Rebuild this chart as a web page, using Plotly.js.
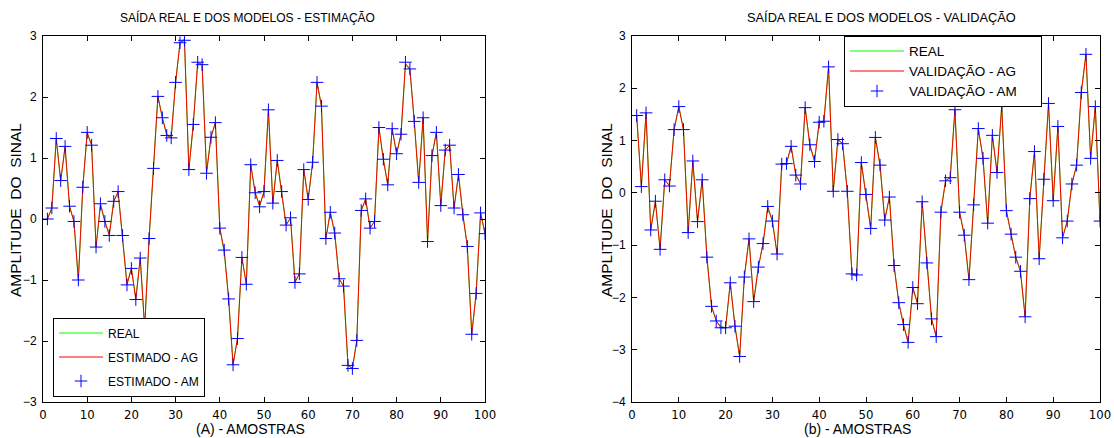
<!DOCTYPE html>
<html>
<head>
<meta charset="utf-8">
<script src="https://cdn.plot.ly/plotly-3.0.1.min.js"></script>
<style>
  html, body { margin: 0; padding: 0; background: #fff; }
  #chart { width: 1114px; height: 438px; }
</style>
</head>
<body>
<div id="chart"></div>
<script>
// Sample index (1..100) shared by both panels
const amostras = Array.from({length: 100}, (_, i) => i + 1);

// ---- Panel (A): estimation data ----
const realEst = [
  0.00, 0.18, 1.30, 0.63, 1.17, 0.21, -0.04, -1.00, 0.52, 1.40,
  1.21, -0.46, 0.22, -0.04, -0.25, 0.29, 0.43, -0.27, -1.05, -0.81,
  -1.30, -0.64, -1.80, -0.32, 0.83, 2.01, 1.66, 1.40, 1.33, 2.24,
  2.89, 2.95, 0.81, 1.55, 2.55, 2.53, 0.78, 1.34, 1.58, -0.15,
  -0.55, -1.31, -2.39, -1.96, -0.63, -1.07, 0.89, 0.43, 0.20, 0.45,
  1.79, 0.26, 0.96, 0.45, -0.10, 0.02, -1.02, -0.90, 0.81, 0.32,
  0.93, 2.24, 1.85, -0.32, 0.11, -0.23, -0.98, -1.10, -2.40, -2.45,
  -1.99, 0.14, 0.33, -0.15, -0.04, 1.50, 0.98, 0.56, 1.48, 1.07,
  1.39, 2.52, 2.46, 1.60, 0.60, 1.66, -0.37, 1.04, 1.42, 0.22,
  1.13, 1.21, 0.18, 0.73, 0.07, -0.45, -1.89, -1.22, 0.10, -0.24
];
const agEst = [
  0.00, 0.18, 1.32, 0.63, 1.19, 0.21, -0.04, -1.00, 0.52, 1.42,
  1.21, -0.46, 0.25, -0.04, -0.27, 0.29, 0.45, -0.27, -1.08, -0.81,
  -1.32, -0.64, -1.78, -0.32, 0.83, 2.01, 1.66, 1.37, 1.33, 2.24,
  2.89, 2.93, 0.81, 1.55, 2.57, 2.53, 0.75, 1.34, 1.58, -0.15,
  -0.51, -1.31, -2.39, -1.96, -0.63, -1.07, 0.89, 0.43, 0.22, 0.45,
  1.79, 0.26, 0.96, 0.45, -0.10, 0.02, -1.04, -0.90, 0.81, 0.32,
  0.93, 2.24, 1.85, -0.32, 0.11, -0.23, -0.98, -1.10, -2.40, -2.45,
  -1.99, 0.14, 0.33, -0.15, -0.04, 1.50, 0.98, 0.56, 1.48, 1.07,
  1.39, 2.55, 2.46, 1.60, 0.60, 1.66, -0.37, 1.04, 1.42, 0.22,
  1.13, 1.21, 0.18, 0.73, 0.07, -0.45, -1.89, -1.22, 0.10, -0.24
];
const amEst = [
  0.00, 0.18, 1.32, 0.63, 1.19, 0.21, -0.04, -1.00, 0.52, 1.42,
  1.21, -0.46, 0.25, -0.04, -0.27, 0.29, 0.45, -0.27, -1.08, -0.81,
  -1.32, -0.64, -1.80, -0.32, 0.83, 2.01, 1.66, 1.37, 1.33, 2.24,
  2.89, 2.93, 0.81, 1.55, 2.57, 2.53, 0.75, 1.34, 1.58, -0.15,
  -0.51, -1.31, -2.39, -1.96, -0.63, -1.07, 0.89, 0.43, 0.20, 0.45,
  1.79, 0.26, 0.96, 0.45, -0.10, 0.02, -1.04, -0.90, 0.81, 0.32,
  0.93, 2.24, 1.85, -0.32, 0.11, -0.23, -0.98, -1.10, -2.40, -2.45,
  -1.99, 0.14, 0.33, -0.15, -0.04, 1.50, 0.98, 0.56, 1.48, 1.07,
  1.39, 2.57, 2.46, 1.60, 0.60, 1.66, -0.37, 1.04, 1.42, 0.22,
  1.13, 1.21, 0.18, 0.73, 0.07, -0.45, -1.89, -1.22, 0.10, -0.24
];

// ---- Panel (b): validation data ----
const realVal = [
  1.48, 0.12, 1.53, -0.71, -0.16, -1.08, 0.25, 0.15, 1.21, 1.65,
  1.21, -0.74, 0.61, -0.55, 0.25, -1.23, -2.17, -2.45, -2.55, -2.58,
  -1.72, -2.55, -3.13, -1.61, -0.88, -2.08, -1.42, -0.97, -0.30, -0.54,
  -1.17, 0.55, 0.56, 0.89, 0.34, 0.20, 1.63, 0.92, 0.62, 1.35,
  1.37, 2.41, 0.03, 1.02, 0.94, 0.03, -1.55, -1.57, 0.58, -0.03,
  -0.68, 1.06, 0.53, -0.52, -0.08, -1.39, -2.10, -2.52, -2.86, -1.81,
  -2.12, -0.17, -1.34, -2.41, -2.75, -0.37, 0.23, 0.29, 1.59, -0.37,
  -0.81, -1.66, -0.23, 1.23, 0.66, -0.58, 1.10, 0.39, 1.66, -0.34,
  -0.79, -1.23, -1.50, -2.37, -0.11, 0.79, -1.26, 0.26, 1.71, -0.15,
  1.27, -0.86, -0.54, 0.17, 0.53, 1.92, 2.65, 0.66, 1.65, -0.54
];
const agVal = [
  1.48, 0.12, 1.53, -0.71, -0.16, -1.08, 0.25, 0.13, 1.21, 1.65,
  1.21, -0.76, 0.61, -0.55, 0.25, -1.23, -2.17, -2.45, -2.58, -2.58,
  -1.72, -2.55, -3.13, -1.61, -0.88, -2.08, -1.42, -0.97, -0.26, -0.54,
  -1.17, 0.55, 0.56, 0.89, 0.34, 0.17, 1.63, 0.92, 0.60, 1.35,
  1.37, 2.41, 0.03, 1.02, 0.94, 0.03, -1.55, -1.60, 0.58, -0.03,
  -0.68, 1.06, 0.53, -0.52, -0.08, -1.39, -2.10, -2.52, -2.86, -1.81,
  -2.12, -0.17, -1.34, -2.41, -2.75, -0.37, 0.23, 0.29, 1.59, -0.37,
  -0.81, -1.66, -0.23, 1.23, 0.66, -0.58, 1.10, 0.39, 1.66, -0.34,
  -0.79, -1.23, -1.50, -2.37, -0.11, 0.79, -1.26, 0.26, 1.71, -0.15,
  1.27, -0.86, -0.54, 0.17, 0.53, 1.92, 2.65, 0.66, 1.65, -0.54
];
const amVal = [
  1.48, 0.12, 1.53, -0.71, -0.16, -1.08, 0.25, 0.13, 1.21, 1.65,
  1.21, -0.76, 0.61, -0.55, 0.25, -1.23, -2.17, -2.45, -2.58, -2.58,
  -1.72, -2.55, -3.13, -1.61, -0.88, -2.08, -1.42, -0.97, -0.26, -0.54,
  -1.17, 0.55, 0.56, 0.89, 0.34, 0.17, 1.63, 0.92, 0.60, 1.35,
  1.37, 2.41, 0.03, 1.02, 0.94, 0.03, -1.55, -1.57, 0.58, -0.03,
  -0.68, 1.06, 0.53, -0.52, -0.08, -1.39, -2.10, -2.52, -2.86, -1.81,
  -2.12, -0.17, -1.34, -2.41, -2.75, -0.37, 0.23, 0.29, 1.59, -0.37,
  -0.81, -1.66, -0.23, 1.23, 0.66, -0.58, 1.10, 0.39, 1.66, -0.34,
  -0.79, -1.23, -1.50, -2.37, -0.11, 0.79, -1.26, 0.26, 1.71, -0.15,
  1.27, -0.86, -0.54, 0.17, 0.53, 1.92, 2.65, 0.66, 1.65, -0.54
];

// Text
const tituloEst = 'SAÍDA REAL E DOS MODELOS - ESTIMAÇÃO';
const tituloVal = 'SAÍDA REAL E DOS MODELOS - VALIDAÇÃO';
const eixoXEst = '(A) - AMOSTRAS';
const eixoXVal = '(b) - AMOSTRAS';
const eixoY = 'AMPLITUDE  DO  SINAL';
const nomesEst = ['REAL', 'ESTIMADO - AG', 'ESTIMADO - AM'];
const nomesVal = ['REAL', 'VALIDAÇÃO - AG', 'VALIDAÇÃO - AM'];

const W = 1114, H = 438;
const px = v => v / W;
const py = v => 1 - v / H;
const PAD = '\u00A0'.repeat(5);   // keeps the right legend box wide
const big = s => '<span style="font-size:13.5px">' + s + '</span>';

const FONT = 'Liberation Sans, Arial, Helvetica, sans-serif';
const NARROW = 'Liberation Sans Narrow, DejaVu Sans Condensed, Liberation Sans, Arial, sans-serif';

function lineTrace(y, name, color, xa, ya, leg, grp) {
  return {
    x: amostras, y: y, name: name, type: 'scatter', mode: 'lines',
    line: {color: color, width: 1},
    xaxis: xa, yaxis: ya, legend: leg, legendgroup: grp
  };
}
function markTrace(y, name, xa, ya, leg, grp) {
  return {
    x: amostras, y: y, name: name, type: 'scatter', mode: 'markers',
    marker: {symbol: 'cross-thin', size: 9, color: '#0000ff', line: {color: '#0000ff', width: 1}},
    xaxis: xa, yaxis: ya, legend: leg, legendgroup: grp
  };
}

const traces = [
  lineTrace(realEst, nomesEst[0], '#00ff00', 'x', 'y', 'legend', 'e1'),
  lineTrace(agEst, nomesEst[1], '#ff0000', 'x', 'y', 'legend', 'e2'),
  markTrace(amEst, nomesEst[2], 'x', 'y', 'legend', 'e3'),
  lineTrace(realVal, big(nomesVal[0] + PAD), '#00ff00', 'x2', 'y2', 'legend2', 'v1'),
  lineTrace(agVal, big(nomesVal[1]), '#ff0000', 'x2', 'y2', 'legend2', 'v2'),
  markTrace(amVal, big(nomesVal[2] + PAD), 'x2', 'y2', 'legend2', 'v3')
];

function xAxis(domain, anchor) {
  return {
    domain: domain, anchor: anchor, range: [0, 100], dtick: 10, tick0: 0,
    ticks: 'inside', ticklen: 5, tickwidth: 1, tickcolor: '#000',
    showline: true, linecolor: '#000', linewidth: 1, mirror: 'ticks',
    showgrid: false, zeroline: false,
    tickfont: {family: NARROW, size: 13, color: '#000'}
  };
}
function yAxis(range, anchor) {
  return {
    domain: [py(402), py(36)], anchor: anchor, range: range, dtick: 1,
    ticks: 'inside', ticklen: 5, tickwidth: 1, tickcolor: '#000',
    showline: true, linecolor: '#000', linewidth: 1, mirror: 'ticks',
    showgrid: false, zeroline: false,
    tickfont: {family: FONT, size: 12, color: '#000'},
    ticklabelstandoff: 3
  };
}

function legendBox(x, y, yanchor, itemwidth, size, gap) {
  return {
    x: x, y: y, xanchor: 'left', yanchor: yanchor,
    bgcolor: '#fff', bordercolor: '#000', borderwidth: 1,
    font: {family: FONT, size: size, color: '#000'},
    itemwidth: itemwidth, traceorder: 'grouped', tracegroupgap: gap
  };
}

function label(text, x, y, size, family, angle) {
  return {
    text: text, xref: 'paper', yref: 'paper', x: px(x), y: py(y),
    xanchor: 'center', yanchor: 'middle', showarrow: false, textangle: angle || 0,
    font: {family: family, size: size, color: '#000'}
  };
}

const layout = {
  width: W, height: H,
  margin: {l: 0, r: 0, t: 0, b: 0},
  paper_bgcolor: '#fff', plot_bgcolor: '#fff',
  font: {family: FONT, color: '#000'},
  showlegend: true,
  xaxis: xAxis([px(43), px(485)], 'y'),
  yaxis: yAxis([-3, 3], 'x'),
  xaxis2: xAxis([px(632), px(1100)], 'y2'),
  yaxis2: yAxis([-4, 3], 'x2'),
  legend: legendBox(px(53), py(396.5), 'bottom', 44, 12, 5),
  legend2: legendBox(px(844), py(35.5), 'top', 54, 12.3, 1),
  annotations: [
    label(tituloEst, 247, 18, 12, FONT),
    label(tituloVal, 881, 18, 12.8, FONT),
    label(eixoXEst, 250, 429, 14, FONT),
    label(eixoXVal, 857, 429, 14, FONT),
    label(eixoY, 16, 210, 15.5, FONT, -90),
    label(eixoY, 607, 210, 15.5, FONT, -90)
  ]
};

Plotly.newPlot('chart', traces, layout, {staticPlot: true, displayModeBar: false});
</script>
</body>
</html>
